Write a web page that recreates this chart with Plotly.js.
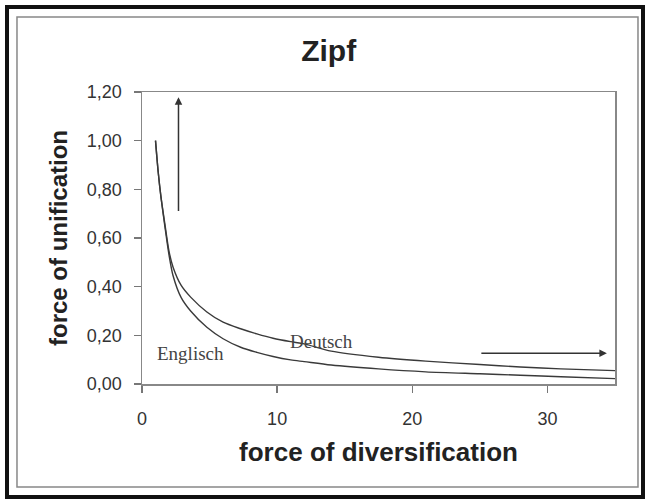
<!DOCTYPE html>
<html>
<head>
<meta charset="utf-8">
<script src="https://cdn.plot.ly/plotly-3.0.1.min.js"></script>
<style>
  html, body { margin: 0; padding: 0; background: #ffffff; }
  #chart { width: 647px; height: 500px; }
</style>
</head>
<body>
<div id="chart"></div>
<script>
// Values
var xValues  = [1, 1.2, 1.4, 1.7, 2.0, 2.3, 2.9, 3.6, 4.8, 6.0, 7.3, 8.5, 9.7, 11, 12, 14, 17.5, 21, 25, 28, 31, 35];
var englisch = [1.0, 0.87, 0.77, 0.645, 0.53, 0.445, 0.355, 0.30, 0.233, 0.186, 0.151, 0.13, 0.113, 0.099, 0.092, 0.078, 0.062, 0.05, 0.042, 0.036, 0.03, 0.022];
var deutsch  = [1.0, 0.87, 0.77, 0.655, 0.545, 0.48, 0.405, 0.357, 0.296, 0.254, 0.227, 0.206, 0.188, 0.174, 0.165, 0.135, 0.11, 0.094, 0.08, 0.07, 0.062, 0.055];
var seriesNames = ["Englisch", "Deutsch"];
var xTicks = [0, 10, 20, 30];
var yTicks = [0, 0.2, 0.4, 0.6, 0.8, 1.0, 1.2];

var lineStyle = {color: "#3a3a3a", width: 1.4, shape: "spline", smoothing: 0.8};

var traces = [
  {x: xValues, y: englisch, name: seriesNames[0], mode: "lines", line: lineStyle, hoverinfo: "x+y"},
  {x: xValues, y: deutsch, name: seriesNames[1], mode: "lines", line: lineStyle, hoverinfo: "x+y"}
];

var axisFont = {family: "Liberation Sans, Arial, sans-serif", size: 18, color: "#333"};

var layout = {
  width: 647,
  height: 500,
  paper_bgcolor: "#ffffff",
  plot_bgcolor: "#ffffff",
  separators: ",.",
  showlegend: false,
  margin: {l: 142, r: 32, t: 92, b: 116, pad: 0},
  title: {
    text: "<b>Zipf</b>",
    font: {family: "Liberation Sans, Arial, sans-serif", size: 30, color: "#222"},
    x: 0.508, xref: "container", xanchor: "center",
    y: 0.9, yref: "container", yanchor: "middle"
  },
  xaxis: {
    range: [0, 35],
    tickvals: xTicks,
    tickfont: axisFont,
    ticks: "outside", ticklen: 7, tickwidth: 1.5, tickcolor: "#777",
    ticklabelstandoff: 11,
    showline: true, linecolor: "#888", linewidth: 1.5, mirror: true,
    showgrid: false, zeroline: false,
    title: {text: "<b>force of diversification</b>", font: {family: "Liberation Sans, Arial, sans-serif", size: 26, color: "#222"}, standoff: 14}
  },
  yaxis: {
    range: [0, 1.2],
    tickvals: yTicks,
    tickformat: ".2f",
    tickfont: axisFont,
    ticks: "outside", ticklen: 7, tickwidth: 1.5, tickcolor: "#777",
    ticklabelstandoff: 8,
    showline: true, linecolor: "#888", linewidth: 1.5, mirror: true,
    showgrid: false, zeroline: false,
    title: {text: "<b>force of unification</b>", font: {family: "Liberation Sans, Arial, sans-serif", size: 24, color: "#222"}, standoff: 12}
  },
  annotations: [
    {x: 2.7, y: 1.178, ax: 2.7, ay: 0.705, xref: "x", yref: "y", axref: "x", ayref: "y",
     text: "", showarrow: true, arrowhead: 2, arrowsize: 1, arrowwidth: 1.5, arrowcolor: "#333"},
    {x: 34.4, y: 0.126, ax: 25, ay: 0.126, xref: "x", yref: "y", axref: "x", ayref: "y",
     text: "", showarrow: true, arrowhead: 2, arrowsize: 1, arrowwidth: 1.5, arrowcolor: "#333"},
    {x: 3.6, y: 0.125, xref: "x", yref: "y", text: seriesNames[0], showarrow: false,
     font: {family: "Liberation Serif, Times New Roman, serif", size: 19, color: "#444"}},
    {x: 13.3, y: 0.175, xref: "x", yref: "y", text: seriesNames[1], showarrow: false,
     font: {family: "Liberation Serif, Times New Roman, serif", size: 19, color: "#444"}}
  ],
  shapes: [
    {type: "rect", xref: "paper", yref: "paper", x0: -0.2854, x1: 1.0592, y0: -0.387, y1: 1.2911,
     line: {color: "#111", width: 4}, fillcolor: "rgba(0,0,0,0)", layer: "above"},
    {type: "rect", xref: "paper", yref: "paper", x0: -0.2643, x1: 1.0486, y0: -0.3527, y1: 1.2568,
     line: {color: "#888", width: 1.5}, fillcolor: "rgba(0,0,0,0)", layer: "above"}
  ]
};

Plotly.newPlot("chart", traces, layout, {displayModeBar: false, staticPlot: true});
</script>
</body>
</html>
